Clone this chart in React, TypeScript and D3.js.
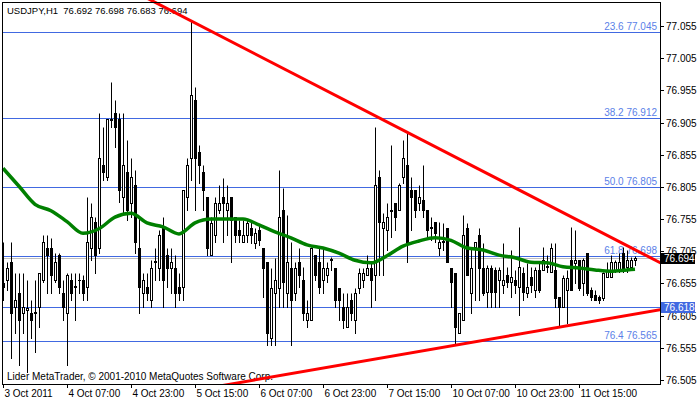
import React, { useEffect, useRef } from 'react';
import * as d3 from 'd3';

const header = 'USDJPY,H1  76.692 76.698 76.683 76.694';
const copyright = 'Lider MetaTrader, © 2001-2010 MetaQuotes Software Corp.';

// hourly candles, USDJPY H1
const opens = [
  76.656, 76.660, 76.688, 76.618, 76.640, 76.609, 76.614, 76.609, 76.609, 76.618,
  76.660, 76.710, 76.710, 76.660, 76.699, 76.640, 76.609, 76.660, 76.650, 76.660,
  76.660, 76.650, 76.710, 76.751, 76.710, 76.839, 76.820, 76.909, 76.920, 76.911,
  76.789, 76.828, 76.780, 76.808, 76.710, 76.640, 76.650, 76.629, 76.688, 76.679,
  76.741, 76.699, 76.679, 76.679, 76.650, 76.650, 76.789, 76.850, 76.940, 76.859,
  76.828, 76.789, 76.699, 76.730, 76.769, 76.789, 76.769, 76.789, 76.758, 76.738,
  76.719, 76.730, 76.741, 76.718, 76.738, 76.710, 76.688, 76.570, 76.640, 76.648,
  76.769, 76.640, 76.679, 76.640, 76.688, 76.660, 76.598, 76.598, 76.699, 76.688,
  76.660, 76.668, 76.691, 76.679, 76.648, 76.618, 76.587, 76.629, 76.598, 76.648,
  76.660, 76.668, 76.679, 76.668, 76.820, 76.741, 76.738, 76.768, 76.780, 76.769,
  76.820, 76.839, 76.800, 76.800, 76.780, 76.785, 76.769, 76.741, 76.751, 76.710,
  76.719, 76.741, 76.679, 76.671, 76.578, 76.598, 76.741, 76.640, 76.712, 76.730,
  76.679, 76.642, 76.679, 76.676, 76.660, 76.653, 76.668, 76.657, 76.660, 76.650,
  76.671, 76.640, 76.665, 76.645, 76.676, 76.676, 76.681, 76.673, 76.676, 76.634,
  76.618, 76.645, 76.691, 76.687, 76.691, 76.656, 76.702, 76.645, 76.637, 76.634,
  76.632, 76.665, 76.665, 76.676, 76.676, 76.702, 76.681, 76.681, 76.692,
];
const highs = [
  76.719, 76.688, 76.719, 76.671, 76.671, 76.671, 76.660, 76.629, 76.660, 76.671,
  76.730, 76.730, 76.726, 76.702, 76.702, 76.660, 76.671, 76.671, 76.671, 76.671,
  76.668, 76.789, 76.780, 76.758, 76.920, 76.898, 76.911, 76.968, 76.940, 76.920,
  76.920, 76.878, 76.850, 76.831, 76.758, 76.671, 76.671, 76.691, 76.710, 76.738,
  76.758, 76.710, 76.710, 76.699, 76.671, 76.800, 76.850, 77.063, 76.960, 76.870,
  76.839, 76.789, 76.758, 76.789, 76.808, 76.819, 76.808, 76.789, 76.758, 76.754,
  76.754, 76.754, 76.754, 76.741, 76.746, 76.710, 76.688, 76.679, 76.695, 76.831,
  76.803, 76.761, 76.719, 76.688, 76.710, 76.681, 76.629, 76.712, 76.699, 76.710,
  76.710, 76.688, 76.696, 76.679, 76.648, 76.640, 76.640, 76.640, 76.648, 76.679,
  76.679, 76.699, 76.688, 76.898, 76.831, 76.764, 76.780, 76.870, 76.780, 76.811,
  76.878, 76.890, 76.820, 76.800, 76.808, 76.839, 76.769, 76.758, 76.751, 76.751,
  76.749, 76.741, 76.679, 76.671, 76.609, 76.761, 76.749, 76.710, 76.719, 76.741,
  76.718, 76.684, 76.684, 76.681, 76.681, 76.718, 76.681, 76.707, 76.676, 76.743,
  76.681, 76.687, 76.681, 76.681, 76.687, 76.712, 76.699, 76.718, 76.718, 76.634,
  76.668, 76.676, 76.743, 76.738, 76.691, 76.695, 76.702, 76.650, 76.645, 76.637,
  76.673, 76.688, 76.699, 76.691, 76.702, 76.712, 76.707, 76.696, 76.698,
];
const lows = [
  76.629, 76.645, 76.539, 76.578, 76.528, 76.578, 76.517, 76.570, 76.549, 76.587,
  76.657, 76.640, 76.640, 76.657, 76.640, 76.598, 76.528, 76.629, 76.598, 76.640,
  76.629, 76.629, 76.691, 76.671, 76.702, 76.816, 76.816, 76.898, 76.867, 76.782,
  76.764, 76.754, 76.758, 76.702, 76.609, 76.618, 76.629, 76.618, 76.660, 76.660,
  76.618, 76.650, 76.640, 76.618, 76.629, 76.629, 76.769, 76.816, 76.769, 76.811,
  76.769, 76.699, 76.699, 76.719, 76.764, 76.719, 76.730, 76.688, 76.719, 76.719,
  76.719, 76.719, 76.718, 76.710, 76.715, 76.634, 76.559, 76.559, 76.559, 76.618,
  76.618, 76.618, 76.559, 76.629, 76.650, 76.598, 76.587, 76.598, 76.660, 76.640,
  76.640, 76.657, 76.676, 76.618, 76.598, 76.586, 76.587, 76.598, 76.578, 76.640,
  76.650, 76.668, 76.618, 76.629, 76.668, 76.668, 76.707, 76.727, 76.738, 76.769,
  76.811, 76.688, 76.738, 76.758, 76.769, 76.758, 76.727, 76.722, 76.719, 76.699,
  76.707, 76.688, 76.618, 76.559, 76.578, 76.598, 76.668, 76.609, 76.629, 76.629,
  76.637, 76.618, 76.618, 76.618, 76.618, 76.640, 76.650, 76.634, 76.640, 76.606,
  76.629, 76.634, 76.642, 76.634, 76.642, 76.676, 76.673, 76.673, 76.618, 76.587,
  76.618, 76.594, 76.645, 76.656, 76.645, 76.637, 76.637, 76.629, 76.629, 76.625,
  76.629, 76.665, 76.665, 76.673, 76.673, 76.673, 76.673, 76.676, 76.683,
];
const closes = [
  76.650, 76.679, 76.609, 76.629, 76.598, 76.618, 76.617, 76.598, 76.611, 76.671,
  76.719, 76.699, 76.668, 76.688, 76.650, 76.618, 76.668, 76.640, 76.651, 76.661,
  76.640, 76.719, 76.758, 76.699, 76.850, 76.828, 76.911, 76.911, 76.898, 76.800,
  76.839, 76.769, 76.820, 76.719, 76.650, 76.660, 76.640, 76.679, 76.690, 76.730,
  76.660, 76.679, 76.688, 76.640, 76.640, 76.800, 76.839, 76.948, 76.850, 76.839,
  76.800, 76.710, 76.749, 76.780, 76.780, 76.780, 76.780, 76.754, 76.730, 76.730,
  76.730, 76.749, 76.730, 76.733, 76.722, 76.679, 76.578, 76.648, 76.660, 76.758,
  76.657, 76.688, 76.629, 76.679, 76.668, 76.609, 76.609, 76.710, 76.668, 76.650,
  76.679, 76.679, 76.693, 76.629, 76.629, 76.598, 76.618, 76.609, 76.640, 76.671,
  76.671, 76.679, 76.660, 76.808, 76.751, 76.751, 76.758, 76.769, 76.758, 76.808,
  76.850, 76.718, 76.789, 76.769, 76.789, 76.769, 76.738, 76.743, 76.733, 76.719,
  76.721, 76.688, 76.657, 76.587, 76.609, 76.730, 76.668, 76.679, 76.719, 76.679,
  76.640, 76.679, 76.642, 76.642, 76.676, 76.660, 76.657, 76.665, 76.653, 76.681,
  76.642, 76.650, 76.653, 76.676, 76.645, 76.691, 76.682, 76.710, 76.632, 76.618,
  76.663, 76.663, 76.645, 76.691, 76.648, 76.691, 76.640, 76.634, 76.629, 76.629,
  76.671, 76.676, 76.688, 76.688, 76.688, 76.679, 76.691, 76.691, 76.694,
];

// moving average, sampled every 4 bars
const maBars = [0, 4, 8, 12, 16, 20, 24, 28, 32, 36, 40, 44, 48, 52, 56, 60, 64, 68, 72, 76,
  80, 84, 88, 92, 96, 100, 104, 108, 112, 116, 120, 124, 128, 132, 136, 140, 144, 148, 152, 156, 158];
const maValues = [76.834, 76.806, 76.778, 76.768, 76.751, 76.733, 76.740, 76.758, 76.764, 76.749,
  76.743, 76.732, 76.749, 76.755, 76.755, 76.755, 76.746, 76.735, 76.726, 76.715,
  76.710, 76.702, 76.691, 76.687, 76.698, 76.713, 76.721, 76.726, 76.722, 76.710,
  76.707, 76.699, 76.695, 76.688, 76.687, 76.681, 76.679, 76.676, 76.674, 76.676, 76.677];

const timeLabels = ['3 Oct 2011', '4 Oct 07:00', '4 Oct 23:00', '5 Oct 15:00', '6 Oct 07:00',
  '6 Oct 23:00', '7 Oct 15:00', '10 Oct 07:00', '10 Oct 23:00', '11 Oct 15:00'];
const priceTicks = [77.055, 77.005, 76.955, 76.905, 76.855, 76.805, 76.755, 76.705, 76.655, 76.605, 76.555, 76.505];

const fibRatios = ['23.6', '38.2', '50.0', '61.8', '76.4'];
const fibPrices = [77.045, 76.912, 76.805, 76.698, 76.565];
const hLinePrice = 76.618;
const bidPrice = 76.694;

// trend lines through bar highs / lows [bar, bar]
const upperTrendBars = [47, 101];
const lowerTrendBars = [113, 139];

const App: React.FC = () => {
    const svgRef = useRef<SVGSVGElement>(null);

    useEffect(() => {
        if (!svgRef.current) return;
        const svg = d3.select(svgRef.current);
        svg.selectAll('*').remove();

        const W = 700, H = 402;
        const plot = { left: 2, right: 660, top: 2, bottom: 384 };
        const font = "'Liberation Sans', Arial, sans-serif";
        const blue = '#4169e1';

        const x = d3.scaleLinear().domain([0, opens.length - 1]).range([3, 3 + 4 * (opens.length - 1)]);
        const y = d3.scaleLinear().domain([76.505, 77.055]).range([380, 26]);
        const py = (p: number) => Math.round(y(p)) + 0.5;

        svg.append('rect').attr('width', W).attr('height', H).attr('fill', '#fff');

        svg.append('defs').append('clipPath').attr('id', 'plotClip')
            .append('rect')
            .attr('x', plot.left).attr('y', 0)
            .attr('width', plot.right - plot.left).attr('height', plot.bottom);

        // fibo levels
        fibPrices.forEach((p, k) => {
            svg.append('line')
                .attr('x1', plot.left).attr('x2', plot.right)
                .attr('y1', py(p)).attr('y2', py(p))
                .attr('stroke', blue).attr('stroke-width', 1);
            svg.append('text')
                .attr('x', 657).attr('y', py(p) - 2.5)
                .attr('text-anchor', 'end')
                .attr('fill', '#5b7fe8')
                .style('font-family', font).style('font-size', '10px')
                .text(`${fibRatios[k]} ${p.toFixed(3)}`);
        });

        // horizontal line
        svg.append('line')
            .attr('x1', plot.left).attr('x2', plot.right)
            .attr('y1', py(hLinePrice)).attr('y2', py(hLinePrice))
            .attr('stroke', blue);

        // bid line
        svg.append('line')
            .attr('x1', plot.left).attr('x2', plot.right)
            .attr('y1', py(bidPrice)).attr('y2', py(bidPrice))
            .attr('stroke', '#c0c0c0');

        // candles
        const cg = svg.append('g');
        opens.forEach((o, i) => {
            const c = closes[i];
            const cx = Math.round(x(i));
            cg.append('line')
                .attr('x1', cx + 0.5).attr('x2', cx + 0.5)
                .attr('y1', py(highs[i])).attr('y2', py(lows[i]) + 0.5)
                .attr('stroke', '#000');
            const top = py(Math.max(o, c));
            const bot = py(Math.min(o, c));
            if (bot - top < 1) {
                cg.append('line')
                    .attr('x1', cx - 1).attr('x2', cx + 2)
                    .attr('y1', top).attr('y2', top)
                    .attr('stroke', '#000');
            } else {
                cg.append('rect')
                    .attr('x', cx - 0.5).attr('y', top)
                    .attr('width', 2).attr('height', bot - top)
                    .attr('fill', c >= o ? '#fff' : '#000')
                    .attr('stroke', '#000');
            }
        });

        // moving average
        const maLine = d3.line<number>()
            .x((_, k) => x(maBars[k]))
            .y(d => y(d))
            .curve(d3.curveMonotoneX);
        svg.append('path')
            .datum(maValues)
            .attr('d', maLine)
            .attr('fill', 'none')
            .attr('stroke', '#008000')
            .attr('stroke-width', 3.5);

        // header + copyright
        svg.append('text')
            .attr('x', 7).attr('y', 14)
            .attr('fill', '#000')
            .style('font-family', font).style('font-size', '9.5px')
            .style('white-space', 'pre')
            .text(header);
        svg.append('text')
            .attr('x', 7).attr('y', 380)
            .attr('fill', '#000')
            .style('font-family', font).style('font-size', '10px')
            .text(copyright);

        // trend lines
        const tg = svg.append('g').attr('clip-path', 'url(#plotClip)');
        const drawTrend = (bars: number[], vals: number[]) => {
            const [i1, i2] = bars;
            const [p1, p2] = vals;
            const slope = (p2 - p1) / (i2 - i1);
            const a = -60, b = 220;
            tg.append('line')
                .attr('x1', x(a)).attr('y1', y(p1 + slope * (a - i1)))
                .attr('x2', x(b)).attr('y2', y(p1 + slope * (b - i1)))
                .attr('stroke', '#ff0000')
                .attr('stroke-width', 3);
        };
        drawTrend(upperTrendBars, upperTrendBars.map(i => highs[i]));
        drawTrend(lowerTrendBars, lowerTrendBars.map(i => lows[i]));

        // frame
        svg.append('rect')
            .attr('x', plot.left + 0.5).attr('y', plot.top + 0.5)
            .attr('width', plot.right - plot.left).attr('height', plot.bottom - plot.top)
            .attr('fill', 'none').attr('stroke', '#000');

        // price axis
        priceTicks.forEach(p => {
            svg.append('line')
                .attr('x1', plot.right).attr('x2', plot.right + 4)
                .attr('y1', py(p)).attr('y2', py(p))
                .attr('stroke', '#000');
            svg.append('text')
                .attr('x', 666).attr('y', py(p) + 3)
                .attr('fill', '#000')
                .style('font-family', font).style('font-size', '10px')
                .text(p.toFixed(3));
        });

        const priceTag = (p: number, bg: string) => {
            const yy = Math.round(y(p));
            svg.append('rect')
                .attr('x', plot.right + 1).attr('y', yy - 5)
                .attr('width', 34).attr('height', 11)
                .attr('fill', bg);
            svg.append('text')
                .attr('x', 664).attr('y', yy + 4)
                .attr('fill', '#fff')
                .style('font-family', font).style('font-size', '10px')
                .text(p.toFixed(3));
        };
        priceTag(bidPrice, '#000');
        priceTag(hLinePrice, blue);

        // time axis
        timeLabels.forEach((t, k) => {
            const tx = Math.round(x(k * 16)) + 0.5;
            svg.append('line')
                .attr('x1', tx).attr('x2', tx)
                .attr('y1', plot.bottom).attr('y2', plot.bottom + 4)
                .attr('stroke', '#000');
            svg.append('text')
                .attr('x', tx + 1).attr('y', 397)
                .attr('fill', '#000')
                .style('font-family', font).style('font-size', '10px')
                .text(t);
        });
    }, []);

    return (
        <div style={{ position: 'absolute', left: 0, top: 0 }}>
            <svg ref={svgRef} width={700} height={402} style={{ display: 'block' }} />
        </div>
    );
};

export default App;
